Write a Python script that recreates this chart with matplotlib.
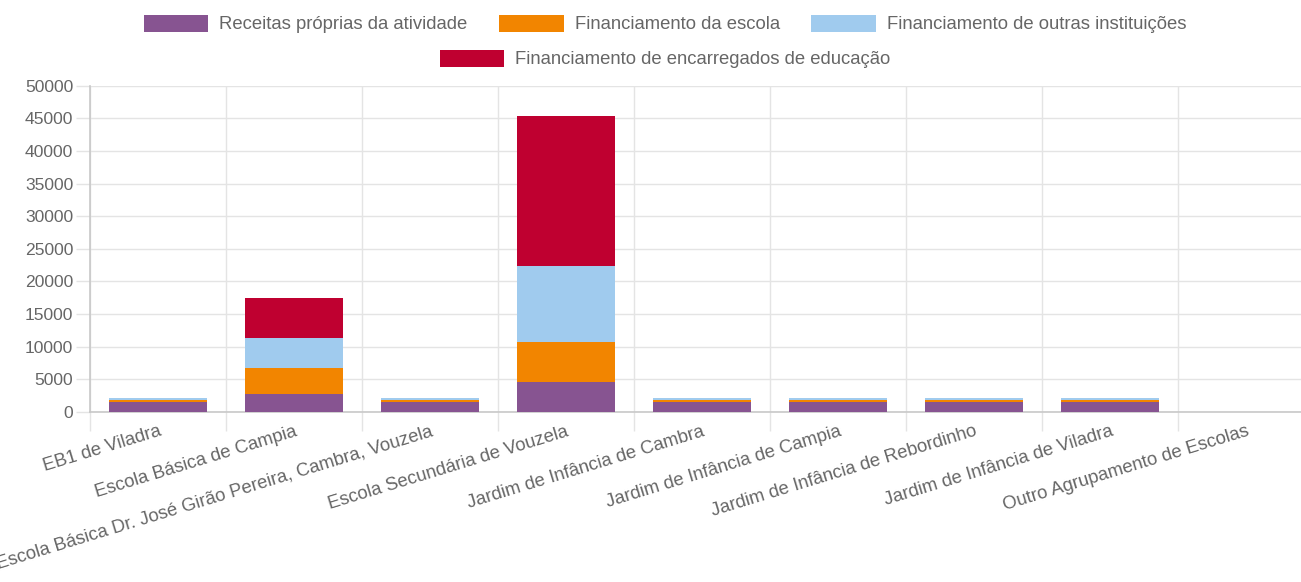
import matplotlib
matplotlib.use("Agg")
import matplotlib.pyplot as plt
from matplotlib.patches import Patch
import numpy as np

plt.rcParams['font.family'] = ['Liberation Sans', 'DejaVu Sans']

categories = [
    "EB1 de Viladra",
    "Escola Básica de Campia",
    "Escola Básica Dr. José Girão Pereira, Cambra, Vouzela",
    "Escola Secundária de Vouzela",
    "Jardim de Infância de Cambra",
    "Jardim de Infância de Campia",
    "Jardim de Infância de Rebordinho",
    "Jardim de Infância de Viladra",
    "Outro Agrupamento de Escolas",
]
series_names = [
    "Receitas próprias da atividade",
    "Financiamento da escola",
    "Financiamento de outras instituições",
    "Financiamento de encarregados de educação",
]
receitas = [1500, 2800, 1500, 4600, 1500, 1500, 1500, 1500, 0]
fin_escola = [300, 4000, 300, 6100, 300, 300, 300, 300, 0]
fin_outras = [400, 4600, 400, 11700, 400, 400, 400, 400, 0]
fin_encarregados = [0, 6000, 0, 23000, 0, 0, 0, 0, 0]
colors = ["#875491", "#f28500", "#a0cbee", "#bf0030"]
yticks = [0, 5000, 10000, 15000, 20000, 25000, 30000, 35000, 40000, 45000, 50000]

W, H = 1301, 582
fig = plt.figure(figsize=(W / 100, H / 100), dpi=100)
ax = fig.add_axes([90 / W, 1 - 412 / H, (1314 - 90) / W, (412 - 85.7) / H])

x = np.arange(len(categories))
bottom = np.zeros(len(categories))
for vals, col, name in zip([receitas, fin_escola, fin_outras, fin_encarregados], colors, series_names):
    ax.bar(x, vals, width=0.72, bottom=bottom, color=col, label=name, linewidth=0, zorder=3)
    bottom += np.array(vals)

ax.set_xlim(-0.5, len(categories) - 0.5)
ax.set_ylim(0, 50000)
ax.set_yticks(yticks)
ax.set_yticklabels([str(v) for v in yticks])

grid_col = "#e4e4e4"
axis_col = "#c8c8c8"
text_col = "#666666"
fs = 13.3

ax.set_xticks(np.arange(-0.5, len(categories)), labels=[])
ax.set_xticks(x, minor=True)
ax.set_xticklabels(categories, minor=True, rotation=17, ha='right', va='top',
                   rotation_mode='anchor', color=text_col, fontsize=fs)
ax.tick_params(axis='x', which='major', length=14, color=grid_col, width=1)
ax.tick_params(axis='x', which='minor', length=0, pad=8)
ax.tick_params(axis='y', length=10, color=grid_col, width=1, labelcolor=text_col, labelsize=12.6, pad=2)

ax.grid(True, which='major', color=grid_col, linewidth=1, zorder=0)
for s in ['top', 'right']:
    ax.spines[s].set_visible(False)
for s in ['left', 'bottom']:
    ax.spines[s].set_color(axis_col)
    ax.spines[s].set_linewidth(1.2)

handles = [Patch(facecolor=c, edgecolor='none') for c in colors]
leg_kw = dict(frameon=False, fontsize=fs, handlelength=3.5, handleheight=1.05,
              handletextpad=0.6, columnspacing=1.7, labelcolor=text_col, borderpad=0)
leg1 = fig.legend(handles[:3], series_names[:3], ncol=3, loc='center',
                  bbox_to_anchor=(665 / W, 1 - 24 / H), **leg_kw)
leg2 = fig.legend(handles[3:], series_names[3:], ncol=1, loc='center',
                  bbox_to_anchor=(665 / W, 1 - 59 / H), **leg_kw)

fig.savefig("out.png", dpi=100)
